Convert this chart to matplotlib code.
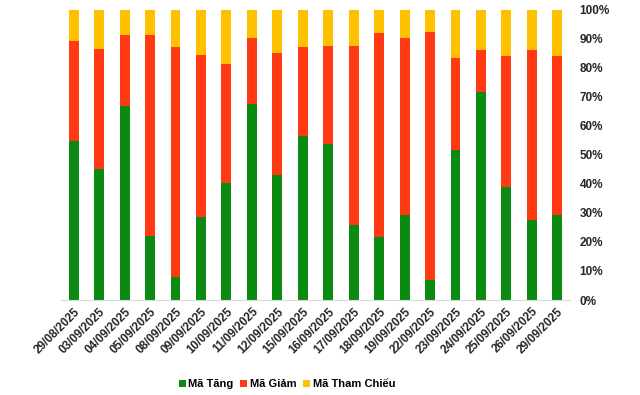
import numpy as np
import matplotlib.pyplot as plt

plt.rcParams['font.family'] = ['Liberation Sans', 'DejaVu Sans']

# ngay giao dich
dates = ['29/08/2025', '03/09/2025', '04/09/2025', '05/09/2025', '08/09/2025',
         '09/09/2025', '10/09/2025', '11/09/2025', '12/09/2025', '15/09/2025',
         '16/09/2025', '17/09/2025', '18/09/2025', '19/09/2025', '22/09/2025',
         '23/09/2025', '24/09/2025', '25/09/2025', '26/09/2025', '29/09/2025']

# ty le (%) ma tang / giam / tham chieu
tang = [54.8, 45.2, 66.9, 22.1, 7.9, 28.6, 40.3, 67.6, 43.1, 56.6,
        53.8, 25.9, 21.7, 29.3, 6.9, 51.7, 71.7, 39.0, 27.6, 29.3]
giam = [34.5, 41.4, 24.5, 69.3, 79.3, 55.9, 41.1, 22.7, 42.1, 30.6,
        33.8, 61.7, 70.4, 61.0, 85.5, 31.7, 14.5, 45.1, 58.6, 54.8]
tham_chieu = [100 - a - b for a, b in zip(tang, giam)]

labels = ['Mã Tăng', 'Mã Giảm', 'Mã Tham Chiếu']
colors = ['#0B8A12', '#FF3A12', '#FFC000']

fig = plt.figure(figsize=(6.4, 3.95), dpi=100)
ax = fig.add_axes([61 / 640, 0.2405, 509 / 640, 0.7345])

x = np.arange(len(dates))
w = 0.39
ax.bar(x, tang, w, color=colors[0], label=labels[0])
ax.bar(x, giam, w, bottom=tang, color=colors[1], label=labels[1])
ax.bar(x, tham_chieu, w, bottom=np.array(tang) + np.array(giam),
       color=colors[2], label=labels[2])

ax.set_xlim(-0.5, len(dates) - 0.5)
ax.set_ylim(0, 100)
ax.yaxis.tick_right()
ax.set_yticks(range(0, 101, 10))
ax.set_yticklabels([f'{v}%' for v in range(0, 101, 10)])
ax.set_xticks(x)
ax.set_xticklabels(dates, rotation=45, ha='right', rotation_mode='anchor')
ax.tick_params(length=0, labelsize=8.5, colors='#262626', pad=4)
ax.tick_params(axis='y', pad=7)
for t in ax.get_xticklabels() + ax.get_yticklabels():
    t.set_fontweight('bold')

for s in ['top', 'left', 'right']:
    ax.spines[s].set_visible(False)
ax.spines['bottom'].set_color('#d9d9d9')

fig.legend(loc='center', bbox_to_anchor=(287 / 640, 1 - 384 / 395), ncol=3,
           frameon=False, handlelength=0.6, handleheight=0.6, handletextpad=0.25,
           columnspacing=0.6, prop={'size': 8, 'weight': 'bold'})

fig.savefig('out.png', dpi=100)
